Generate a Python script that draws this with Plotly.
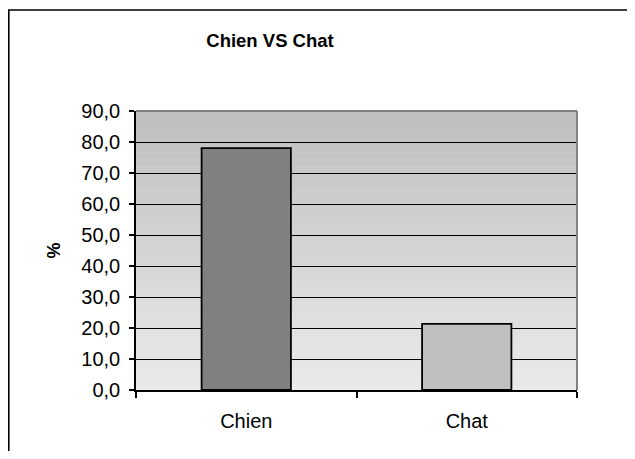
import plotly.graph_objects as go

categories = ["Chien", "Chat"]
values = [78.0, 21.3]
bar_colors = ["#808080", "#c0c0c0"]
y_ticks = [0, 10, 20, 30, 40, 50, 60, 70, 80, 90]
y_ticktext = ["0,0", "10,0", "20,0", "30,0", "40,0", "50,0", "60,0", "70,0", "80,0", "90,0"]

# the page body has an 8px margin; figure sized so the page fits 635x459
OFF = 8
W, H = 635 - 2 * OFF, 459 - 2 * OFF
L, R, T, B = 136 - OFF, 58 - OFF, 111 - OFF, 69 - OFF
pw, ph = W - L - R, H - T - B

def px_x(x):  # page pixel -> paper x
    return (x - OFF - L) / pw

def px_y(y):  # page pixel -> paper y
    return (H - B - (y - OFF)) / ph

fig = go.Figure()
fig.add_trace(go.Bar(
    x=categories, y=values,
    marker=dict(color=bar_colors, line=dict(color="black", width=1.8)),
    width=0.405,
))

shapes = []
n = 80
top_c = (0xbf, 0xbf, 0xbf)
bot_c = (0xea, 0xea, 0xea)
for i in range(n):
    t = i / (n - 1)
    c = tuple(round(bot_c[k] + (top_c[k] - bot_c[k]) * t) for k in range(3))
    shapes.append(dict(type="rect", xref="x domain", yref="y domain",
                       x0=0, x1=1, y0=i / n, y1=(i + 1) / n + 0.002,
                       fillcolor="rgb(%d,%d,%d)" % c, line=dict(width=0),
                       layer="below"))
shapes.append(dict(type="line", xref="x domain", yref="y domain",
                   x0=0, x1=1, y0=1, y1=1, line=dict(color="#808080", width=2), layer="above"))
shapes.append(dict(type="line", xref="x domain", yref="y domain",
                   x0=1, x1=1, y0=0, y1=1, line=dict(color="#808080", width=2), layer="above"))
shapes.append(dict(type="rect", xref="paper", yref="paper",
                   x0=px_x(8.8), x1=px_x(700), y0=px_y(520), y1=px_y(10),
                   line=dict(color="black", width=1.6), fillcolor="rgba(0,0,0,0)",
                   layer="above"))

fig.update_layout(
    width=W, height=H, autosize=False,
    margin=dict(l=L, r=R, t=T, b=B, pad=0),
    paper_bgcolor="white", plot_bgcolor="rgba(0,0,0,0)",
    showlegend=False,
    font=dict(family="Liberation Sans, Arial, sans-serif", color="black"),
    title=dict(text="<b>Chien VS Chat</b>", x=(270 - OFF) / W, xanchor="center",
               y=1 - (41 - OFF) / H, yanchor="middle", xref="container", yref="container",
               font=dict(size=18.5, color="black")),
    shapes=shapes,
    xaxis=dict(
        type="category", showgrid=False, showline=True, linecolor="black", linewidth=1.5,
        ticks="outside", tickson="boundaries", ticklen=6, tickcolor="black", tickwidth=1.5,
        tickfont=dict(size=20), ticklabelstandoff=12, fixedrange=True,
    ),
    yaxis=dict(
        range=[0, 90], tickmode="array", tickvals=y_ticks, ticktext=y_ticktext,
        showgrid=True, gridcolor="black", gridwidth=1,
        showline=True, linecolor="black", linewidth=1.5,
        ticks="outside", ticklen=5, tickcolor="black", tickwidth=1.5,
        tickfont=dict(size=20), ticklabelstandoff=5, zeroline=False,
        title=dict(text="<b>%</b>", font=dict(size=18), standoff=16),
    ),
)

fig.write_html("out.html")
